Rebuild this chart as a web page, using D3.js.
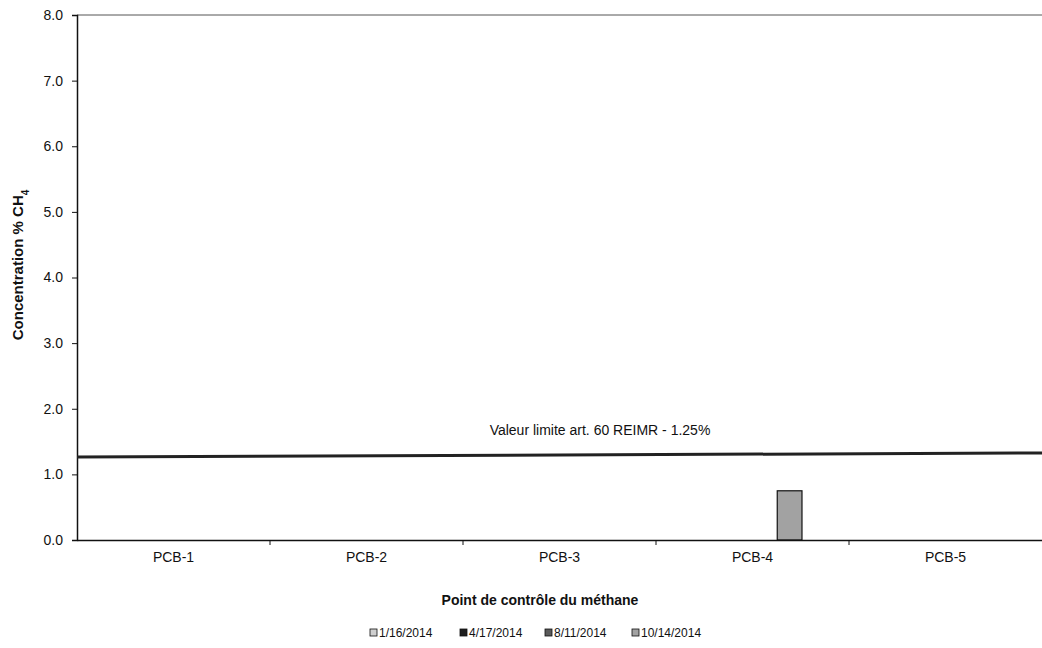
<!DOCTYPE html>
<html>
<head>
<meta charset="utf-8">
<script src="https://cdn.jsdelivr.net/npm/d3@7"></script>
<style>
  body { margin: 0; background: #fff; }
  svg { display: block; }
  .narrow { font-family: "Liberation Sans Narrow", "Arial Narrow", "Liberation Sans", sans-serif; }
</style>
</head>
<body>
<svg id="chart" width="1042" height="648"></svg>
<script>
const points = ["PCB-1", "PCB-2", "PCB-3", "PCB-4", "PCB-5"];
const dates = ["1/16/2014", "4/17/2014", "8/11/2014", "10/14/2014"];
// values per date, one per control point
const v_0116 = [0, 0, 0, 0, 0];
const v_0417 = [0, 0, 0, 0, 0];
const v_0811 = [0, 0, 0, 0, 0];
const v_1014 = [0, 0, 0, 0.75, 0];
const limitValue = 1.25;
const limitLabel = "Valeur limite art. 60 REIMR - 1.25%";
const yTicks = [0, 1, 2, 3, 4, 5, 6, 7, 8];

const series = [v_0116, v_0417, v_0811, v_1014];
const colors = ["#cfcfcf", "#1e1e1e", "#5a5a5a", "#a2a2a2"];

const svg = d3.select('#chart');
const m = { left: 77, right: 1042, top: 15, bottom: 540 };

const xScale = d3.scaleBand().domain(points).range([m.left, m.right]);
const inner = d3.scaleBand().domain(dates).range([0, xScale.bandwidth()]).paddingOuter(1.9);
const yScale = d3.scaleLinear().domain([0, 8]).range([m.bottom, m.top]);

// top frame line
svg.append('line')
  .attr('x1', m.left).attr('x2', m.right)
  .attr('y1', m.top).attr('y2', m.top)
  .attr('stroke', '#555').attr('stroke-width', 1);

// bars
series.forEach((vals, i) => {
  svg.append('g')
    .selectAll('rect')
    .data(vals.map((v, j) => ({ p: points[j], v })).filter(d => d.v > 0))
    .join('rect')
    .attr('x', d => xScale(d.p) + inner(dates[i]))
    .attr('y', d => yScale(d.v))
    .attr('width', inner.bandwidth())
    .attr('height', d => yScale(0) - yScale(d.v))
    .attr('fill', colors[i])
    .attr('stroke', '#111')
    .attr('stroke-width', 1.2);
});

// y axis
const yAxis = d3.axisLeft(yScale).tickValues(yTicks).tickFormat(d3.format('.1f')).tickSize(5).tickPadding(9);
const gy = svg.append('g').attr('transform', `translate(${m.left},0)`).call(yAxis);
gy.select('.domain').attr('stroke', '#111').attr('stroke-width', 1.5);
gy.selectAll('.tick line').attr('stroke', '#111');
gy.selectAll('text').attr('font-size', 14).attr('font-family', 'Liberation Sans, Arial, sans-serif').attr('fill', '#111');

// x axis
const xAxis = d3.axisBottom(xScale).tickSize(0).tickPadding(12);
const gx = svg.append('g').attr('transform', `translate(0,${m.bottom})`).call(xAxis);
gx.select('.domain').attr('stroke', '#111').attr('stroke-width', 1.5);
gx.selectAll('text').attr('class', 'narrow').attr('font-size', 14).attr('fill', '#111');
// category separators
svg.append('g').selectAll('line')
  .data(points.slice(1))
  .join('line')
  .attr('x1', d => xScale(d)).attr('x2', d => xScale(d))
  .attr('y1', m.bottom).attr('y2', m.bottom + 5)
  .attr('stroke', '#111');

// limit line
svg.append('line')
  .attr('x1', m.left).attr('x2', m.right)
  .attr('y1', yScale(limitValue) - 1).attr('y2', yScale(limitValue) - 5)
  .attr('stroke', '#222').attr('stroke-width', 3);
svg.append('text')
  .attr('class', 'narrow')
  .attr('x', 600).attr('y', yScale(limitValue) - 23)
  .attr('text-anchor', 'middle')
  .attr('font-size', 14).attr('fill', '#111')
  .text(limitLabel);

// y title
const yt = svg.append('text')
  .attr('class', 'narrow')
  .attr('transform', 'translate(23,265) rotate(-90)')
  .attr('text-anchor', 'middle')
  .attr('font-size', 15).attr('font-weight', 'bold').attr('fill', '#111');
yt.append('tspan').text('Concentration % CH');
yt.append('tspan').attr('baseline-shift', 'sub').attr('font-size', 10).text('4');

// x title
svg.append('text')
  .attr('class', 'narrow')
  .attr('x', 540).attr('y', 605)
  .attr('text-anchor', 'middle')
  .attr('font-size', 14).attr('font-weight', 'bold').attr('fill', '#111')
  .text('Point de contrôle du méthane');

// legend
const legendX = [370, 460, 545, 632];
const lg = svg.append('g').selectAll('g')
  .data(dates)
  .join('g')
  .attr('transform', (d, i) => `translate(${legendX[i]},633)`);
lg.append('rect')
  .attr('x', 0).attr('y', -4).attr('width', 7).attr('height', 7)
  .attr('fill', (d, i) => colors[i]).attr('stroke', '#111').attr('stroke-width', 0.8);
lg.append('text')
  .attr('class', 'narrow')
  .attr('x', 9).attr('y', 4)
  .attr('font-size', 12).attr('fill', '#111')
  .text(d => d);
</script>
</body>
</html>
